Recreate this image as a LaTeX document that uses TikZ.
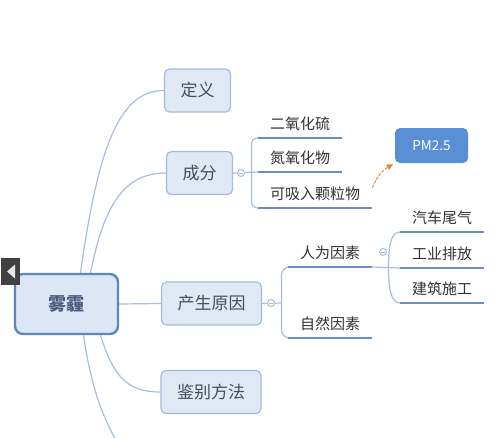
\documentclass[tikz,border=0pt]{standalone}
\usepackage{fontspec}
\setmainfont{Noto Sans CJK SC}
\usetikzlibrary{arrows.meta,backgrounds}
\definecolor{boxfill}{HTML}{DFE8F4}
\definecolor{boxdraw}{HTML}{A7BBD9}
\definecolor{cdraw}{HTML}{5C86C2}
\definecolor{cfill}{HTML}{DCE6F4}
\definecolor{conncol}{HTML}{A9BEDB}
\definecolor{ulcol}{HTML}{6B8EC4}
\definecolor{midtext}{HTML}{434E60}
\definecolor{ctext}{HTML}{4A5D7E}
\definecolor{leaftext}{HTML}{333333}
\definecolor{pmfill}{HTML}{5A8FD6}
\definecolor{arrcol}{HTML}{E8853D}
\definecolor{widget}{HTML}{404040}
\tikzset{
  centerbox/.style={draw=cdraw, fill=cfill, line width=2.4pt, rounded corners=8pt,
    minimum width=103pt, minimum height=60pt, text=ctext,
    font=\fontsize{18}{20}\selectfont\bfseries},
  midbox/.style={draw=boxdraw, fill=boxfill, line width=1.2pt, rounded corners=5pt,
    minimum height=43pt, inner xsep=16pt, text=midtext,
    font=\fontsize{17}{19}\selectfont},
  leaf/.style={anchor=south west, inner ysep=0pt, inner xsep=12pt,
    text height=12pt, text depth=8pt, text=leaftext,
    font=\fontsize{15}{17}\selectfont},
  uline/.style={draw=ulcol, line width=2.3pt},
  conn/.style={draw=conncol, line width=1.2pt},
  knob/.style={circle, draw=conncol, fill=white, line width=1pt,
    minimum size=7pt, inner sep=0pt},
  pmbox/.style={fill=pmfill, rounded corners=5pt, minimum width=73pt,
    minimum height=35pt, text=white, font=\fontsize{13.5}{15}\selectfont},
  orangearrow/.style={draw=arrcol, line width=1pt, dashed, dash pattern=on 3pt off 1.5pt,
    -{Triangle[length=6pt,width=6pt,fill=arrcol]}}
}
\begin{document}
\begin{tikzpicture}[x=1pt,y=-1pt]
\useasboundingbox (0,0) rectangle (500,437);

% main nodes
\node[centerbox] (ctr) at (66.5,304) {雾霾};
\node[midbox] (def) at (197.5,90.5) {定义};
\node[midbox] (comp) at (199.5,173) {成分};
\node[midbox] (cause) at (211.5,303.5) {产生原因};
\node[midbox] (ident) at (211,392) {鉴别方法};

% leaves of 成分
\node[leaf] (s1) at (258,138) {二氧化硫};
\node[leaf] (s2) at (258,172) {氮氧化物};
\node[leaf] (s3) at (258,208) {可吸入颗粒物};
\node[pmbox] (pm) at (431.5,145.5) {PM2.5};

% leaves of 产生原因
\node[leaf] (h1) at (288,267) {人为因素};
\node[leaf] (h2) at (288,338) {自然因素};
\node[leaf] (r1) at (400,232) {汽车尾气};
\node[leaf] (r2) at (400,268) {工业排放};
\node[leaf] (r3) at (400,303) {建筑施工};

\coordinate (off) at (116,440);

\begin{pgfonlayer}{background}
\fill[white] (0,0) rectangle (500,437);
% connectors from centre
\draw[conn] ([xshift=14pt]ctr.north) .. controls (98,150) and (118,90.5) .. (def.west);
\draw[conn] ([xshift=24pt]ctr.north) .. controls (104,205) and (124,173) .. (comp.west);
\draw[conn] (ctr.east) -- (cause.west);
\draw[conn] ([xshift=34pt]ctr.south) .. controls (114,378) and (128,392) .. (ident.west);
\draw[conn] ([xshift=17pt]ctr.south) .. controls (90,380) and (100,412) .. (off);

% 成分 branch
\draw[conn] (comp.east) -- (s2.south west);
\draw[conn, rounded corners=6pt] (s1.south west) -| (251.5,173) |- (s3.south west);

% 产生原因 branch
\draw[conn] (cause.east) -- (281.5,303);
\draw[conn, rounded corners=8pt] (h1.south west) -| (281.5,303) |- (h2.south west);

% 人为因素 branch
\draw[conn] (h1.south east) -- (r2.south west);
\draw[conn] (r1.south west) .. controls (391,232) and (388.5,245) .. (388.5,267)
  .. controls (388.5,289) and (391,303) .. (r3.south west);
\end{pgfonlayer}

% underlines
\foreach \n in {s1,s2,s3,h1,h2,r1,r2,r3}{
  \draw[uline] (\n.south west) -- (\n.south east);
}

% collapse knobs
\node[knob] (k1) at (241,173) {};
\node[knob] (k2) at (271,303) {};
\node[knob] (k3) at (383,252) {};
\draw[conncol, line width=0.8pt] ([xshift=-1.8pt]k1.center) -- ([xshift=1.8pt]k1.center);
\draw[conncol, line width=0.8pt] ([xshift=-1.8pt]k2.center) -- ([xshift=1.8pt]k2.center);
\draw[conncol, line width=0.8pt] ([xshift=-1.8pt]k3.center) -- ([xshift=1.8pt]k3.center);

% orange arrow
\draw[orangearrow] (s3.north east) to[bend left=18] ([xshift=-2pt,yshift=-1pt]pm.south west);

% left widget
\fill[widget] (1,258) rectangle (20,285);
\fill[white!80!gray] (7,271.5) -- (15,264.5) -- (15,278.5) -- cycle;
\end{tikzpicture}
\end{document}
